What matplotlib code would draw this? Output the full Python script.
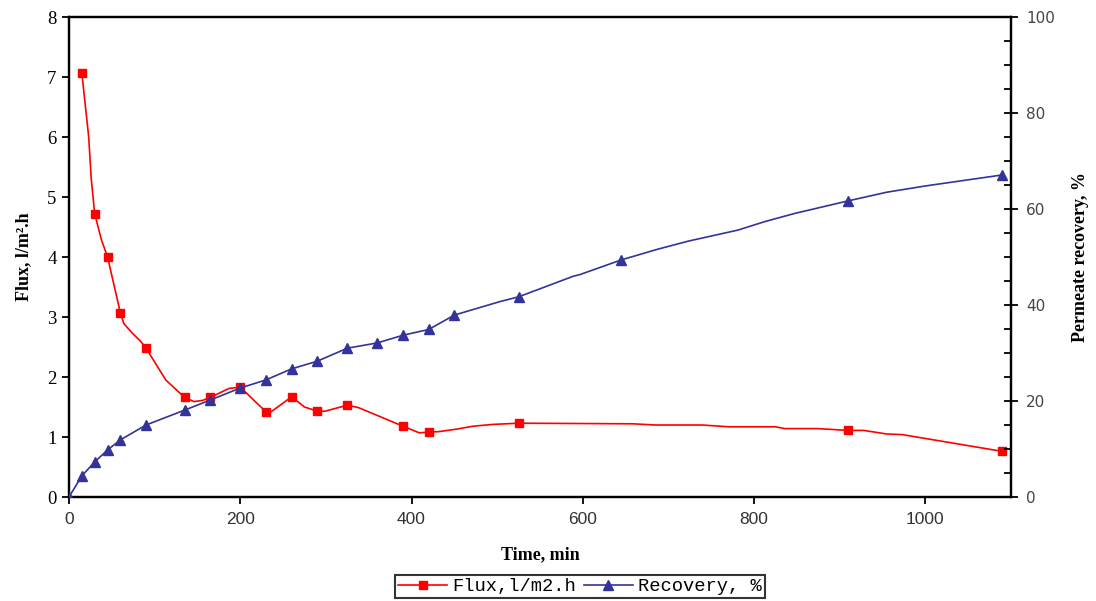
import matplotlib
matplotlib.use("Agg")
import matplotlib.pyplot as plt
from matplotlib.ticker import MultipleLocator
from matplotlib.lines import Line2D

# Flux: marker points (min, l/m2.h)
flux_mark_t = [15, 30, 45, 60, 90, 135, 165, 200, 230, 260, 290, 325, 390, 420, 525, 910, 1090]
flux_mark_v = [7.07, 4.72, 4.00, 3.07, 2.48, 1.66, 1.66, 1.83, 1.42, 1.67, 1.43, 1.53, 1.18, 1.08, 1.23, 1.11, 0.76]

# Flux: trace of the connecting line
flux_line_t = [15, 17, 20, 23, 26, 30, 38, 45, 60, 64, 74, 84, 90, 113, 135, 146, 156, 165, 187, 200,
               230, 234, 260, 275, 290, 299, 325, 338, 390, 409, 420, 432, 452, 472, 495, 525,
               658, 685, 739, 771, 825, 836, 874, 910, 928, 955, 973, 1090]
flux_line_v = [7.07, 6.8, 6.4, 6.0, 5.3, 4.72, 4.28, 4.00, 3.07, 2.89, 2.73, 2.59, 2.48, 1.95, 1.66, 1.59, 1.61, 1.66, 1.81, 1.83,
               1.42, 1.40, 1.67, 1.50, 1.43, 1.43, 1.53, 1.49, 1.18, 1.07, 1.08, 1.09, 1.13, 1.18, 1.21, 1.23,
               1.22, 1.20, 1.20, 1.17, 1.17, 1.14, 1.14, 1.11, 1.11, 1.05, 1.04, 0.76]

# Recovery: marker points (min, %)
rec_mark_t = [0, 15, 30, 45, 60, 90, 135, 165, 200, 230, 260, 290, 325, 360, 390, 420, 450, 525, 645, 910, 1090]
rec_mark_v = [0, 4.4, 7.3, 9.8, 11.9, 15.0, 18.1, 20.2, 22.7, 24.4, 26.7, 28.3, 31.0, 32.1, 33.7, 34.9, 37.9, 41.7, 49.4, 61.7, 67.1]

# Recovery: trace of the connecting line
rec_line_t = [0, 15, 30, 45, 60, 90, 135, 165, 200, 230, 260, 290, 325, 360, 390, 420, 450, 503, 525,
              589, 596, 645, 687, 723, 781, 813, 848, 910, 955, 1000, 1090]
rec_line_v = [0, 4.4, 7.3, 9.8, 11.9, 15.0, 18.1, 20.2, 22.7, 24.4, 26.7, 28.3, 31.0, 32.1, 33.7, 34.9, 37.9, 40.7, 41.7,
              46.0, 46.3, 49.4, 51.6, 53.3, 55.6, 57.4, 59.1, 61.7, 63.5, 64.8, 67.1]

x_ticks = [0, 200, 400, 600, 800, 1000]
flux_ticks = [0, 1, 2, 3, 4, 5, 6, 7, 8]
rec_ticks = [0, 20, 40, 60, 80, 100]

RED = "#FF0000"
BLUE = "#333399"

fig = plt.figure(figsize=(10.96, 6.01), dpi=100)
ax = fig.add_axes([69 / 1096, 1 - 497 / 601, (1011 - 69) / 1096, (497 - 17) / 601])
ax2 = ax.twinx()

serif = ["Liberation Serif", "DejaVu Serif"]
narrow = ["Liberation Sans Narrow", "Liberation Sans", "DejaVu Sans"]

ax.plot(flux_line_t, flux_line_v, color=RED, lw=1.2, zorder=3)
ax.plot(flux_mark_t, flux_mark_v, ls="none", marker="s", ms=6, color=RED, zorder=4)
ax2.plot(rec_line_t, rec_line_v, color=BLUE, lw=1.2, zorder=3)
ax2.plot(rec_mark_t, rec_mark_v, ls="none", marker="^", ms=7.5, color=BLUE, zorder=4)

ax.set_xlim(0, 1100)
ax.set_ylim(0, 8)
ax2.set_ylim(0, 100)
ax.set_xticks(x_ticks)
ax.set_yticks(flux_ticks)
ax2.set_yticks(rec_ticks)
ax2.yaxis.set_minor_locator(MultipleLocator(5))

for s in ax.spines.values():
    s.set_linewidth(1.6)
for s in ax2.spines.values():
    s.set_linewidth(1.6)

ax.tick_params(axis="y", direction="out", length=5, width=1.3, pad=4, labelsize=13.5)
ax.tick_params(axis="x", direction="out", length=5, width=1.3, pad=6, labelsize=12.5, labelcolor="#333333")
ax2.tick_params(axis="y", which="major", direction="inout", length=10, width=1.3, pad=6,
                labelsize=11, labelcolor="#444444")
ax2.tick_params(axis="y", which="minor", direction="in", length=5, width=1.3)

for t in ax.get_yticklabels():
    t.set_family(serif)
for t in ax.get_xticklabels():
    t.set_family(narrow)
for t in ax2.get_yticklabels():
    t.set_family(["DejaVu Sans"])

ax.set_xlabel("Time, min", family=serif, fontweight="bold", fontsize=13, labelpad=14)
ax.set_ylabel("Flux, l/m\u00b2.h", family=serif, fontweight="bold", fontsize=13, labelpad=11)
ax2.set_ylabel("Permeate recovery, %", family=serif, fontweight="bold", fontsize=13, labelpad=12)

h1 = Line2D([], [], color=RED, lw=1.2, marker="s", ms=6)
h2 = Line2D([], [], color=BLUE, lw=1.2, marker="^", ms=7.5)
leg = fig.legend([h1, h2], ["Flux,l/m2.h", "Recovery, %"], loc="lower center",
                 bbox_to_anchor=(580 / 1096, 0.0), ncol=2, frameon=True, fancybox=False,
                 prop={"family": ["Liberation Mono", "DejaVu Sans Mono"], "size": 13.5},
                 handlelength=2.6, handletextpad=0.3, columnspacing=0.4,
                 borderpad=0.15, borderaxespad=0.15)
leg.get_frame().set_edgecolor("black")
leg.get_frame().set_linewidth(1.5)

fig.savefig("out.png", dpi=100)
